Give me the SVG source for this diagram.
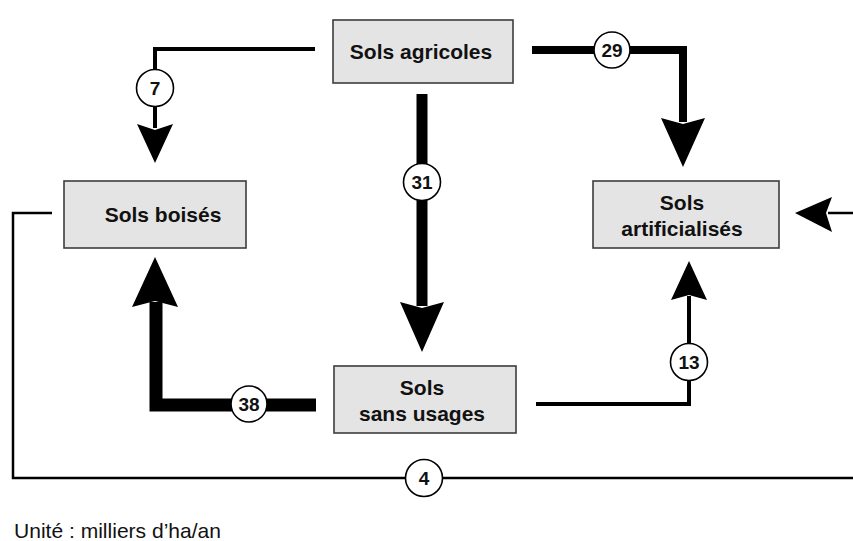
<svg xmlns="http://www.w3.org/2000/svg" width="853" height="541" viewBox="0 0 853 541">
<style>
.box{fill:#e4e4e4;stroke:#3c3c3c;stroke-width:1.6}
.lbl{font-family:"Liberation Sans",Arial,sans-serif;font-weight:bold;font-size:21px;fill:#111;text-anchor:middle}
.num{font-family:"Liberation Sans",Arial,sans-serif;font-weight:bold;font-size:19px;fill:#111;text-anchor:middle}
.ln{fill:none;stroke:#000;stroke-linejoin:miter}
.circ{fill:#fff;stroke:#000;stroke-width:1.6}
.ah{fill:#000}
</style>
<rect width="853" height="541" fill="#fff"/>
<g id="connectors">
  <!-- 7 -->
  <polyline class="ln" stroke-width="4" points="315,49 155,49 155,128"/>
  <path class="ah" d="M137,124 L155,130 L173,124 L155,163 Z"/>
  <!-- 29 -->
  <polyline class="ln" stroke-width="8" points="532,50 683,50 683,122"/>
  <path class="ah" d="M661,118 L683,124 L705,118 L683,167 Z"/>
  <!-- 31 -->
  <line class="ln" stroke-width="11" x1="422" y1="94" x2="422" y2="306"/>
  <path class="ah" d="M400,302 L422,308 L444,302 L422,352 Z"/>
  <!-- 38 -->
  <polyline class="ln" stroke-width="13" points="316,405 156,405 156,302"/>
  <path class="ah" d="M132,307 L155,301 L178,307 L155,257 Z"/>
  <!-- 13 -->
  <polyline class="ln" stroke-width="4" points="536,404 689,404 689,296"/>
  <path class="ah" d="M671,300 L689,295 L707,300 L689,261 Z"/>
  <!-- 4 -->
  <polyline class="ln" stroke-width="2.5" points="52,213 13,213 13,478 853,478"/>
  <line class="ln" stroke-width="2.5" x1="828" y1="213" x2="853" y2="213"/>
  <path class="ah" d="M832,197 L826,213 L832,232 L795,213 Z"/>
  <!-- value circles -->
  <g id="v7"><circle class="circ" cx="155" cy="88" r="18.5"/><text class="num" x="155" y="95">7</text></g>
  <g id="v29"><circle class="circ" cx="612" cy="50" r="18"/><text class="num" x="612" y="57">29</text></g>
  <g id="v31"><circle class="circ" cx="422" cy="182" r="18.5"/><text class="num" x="422" y="189">31</text></g>
  <g id="v38"><circle class="circ" cx="249" cy="404" r="18"/><text class="num" x="249" y="411">38</text></g>
  <g id="v13"><circle class="circ" cx="689" cy="362" r="18.5"/><text class="num" x="689" y="369">13</text></g>
  <g id="v4"><circle class="circ" cx="424" cy="478" r="18.5"/><text class="num" x="424" y="485">4</text></g>
</g>
<g id="sols-agricoles">
  <rect class="box" x="333" y="20" width="180" height="63"/>
  <text class="lbl" x="421" y="59">Sols agricoles</text>
</g>
<g id="sols-boises">
  <rect class="box" x="64" y="181" width="182" height="67"/>
  <text class="lbl" x="163" y="222">Sols boisés</text>
</g>
<g id="sols-artificialises">
  <rect class="box" x="593" y="181" width="186" height="67"/>
  <text class="lbl" x="682" y="210">Sols</text>
  <text class="lbl" x="682" y="236">artificialisés</text>
</g>
<g id="sols-sans-usages">
  <rect class="box" x="334" y="366" width="182" height="67"/>
  <text class="lbl" x="422" y="395">Sols</text>
  <text class="lbl" x="422" y="421">sans usages</text>
</g>
<text x="14" y="538" font-family="'Liberation Sans',Arial,sans-serif" font-size="21" fill="#111" textLength="207" lengthAdjust="spacingAndGlyphs">Unité : milliers d’ha/an</text>
</svg>
